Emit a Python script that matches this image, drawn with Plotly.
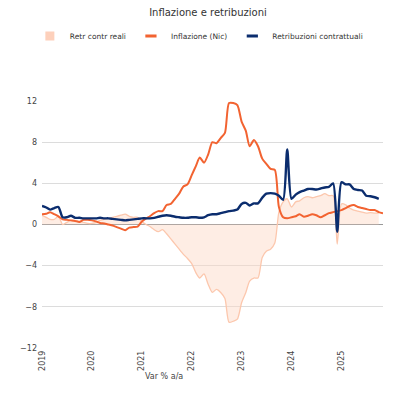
import pandas as pd
import plotly.graph_objects as go

# mesi da gen 2019 a nov 2025
mesi = pd.date_range("2019-01-01", "2025-11-01", freq="MS")

# Inflazione NIC, var % a/a
inflazione = [
    1.0, 1.05, 1.2, 1.0, 0.8, 0.5, 0.45, 0.4, 0.35, 0.25, 0.45, 0.45,
    0.4, 0.3, 0.15, 0.1, 0.0, -0.1, -0.25, -0.4, -0.55, -0.3, -0.25, -0.2,
    0.3, 0.6, 0.8, 1.1, 1.3, 1.3, 1.9, 2.0, 2.5, 3.0, 3.7, 3.9,
    4.8, 5.7, 6.5, 6.0, 6.8, 8.0, 7.9, 8.4, 8.9, 11.8, 11.8, 11.6,
    10.0, 9.1, 7.6, 8.2, 7.6, 6.4, 5.9, 5.4, 5.3, 1.7, 0.7, 0.6,
    0.7, 0.8, 1.0, 0.75, 0.85, 1.0, 0.9, 0.7, 0.9, 1.1, 1.2, 1.3,
    1.4, 1.6, 1.8, 1.9, 1.7, 1.6, 1.5, 1.4, 1.4, 1.2, 1.1,
]

# Retribuzioni contrattuali, var % a/a
retribuzioni = [
    1.8, 1.65, 1.45, 1.6, 1.7, 0.7, 0.7, 0.85, 0.65, 0.65, 0.6, 0.6,
    0.6, 0.6, 0.65, 0.6, 0.6, 0.55, 0.5, 0.45, 0.4, 0.45, 0.5, 0.55,
    0.6, 0.6, 0.6, 0.65, 0.75, 0.85, 0.9, 0.85, 0.75, 0.7, 0.65, 0.65,
    0.7, 0.7, 0.65, 0.7, 0.9, 1.0, 1.0, 1.1, 1.2, 1.3, 1.35, 1.45,
    2.0, 2.1, 1.85, 2.05, 2.05, 2.6, 3.0, 3.05, 3.0, 2.8, 2.4, 7.3,
    2.5, 2.9, 3.15, 3.3, 3.45, 3.45, 3.4, 3.5, 3.6, 3.65, 4.0, -0.7,
    4.1, 3.9, 3.9, 3.45, 3.35, 3.3, 2.8, 2.75, 2.65, 2.5,
]

# Retribuzioni contrattuali reali, var % a/a
retr_reali = [
    0.9, 0.7, 0.5, 0.5, 0.8, 0.0, 0.2, 0.4, 0.3, 0.3, 0.2, 0.1,
    0.1, 0.2, 0.4, 0.5, 0.6, 0.7, 0.8, 0.9, 1.0, 0.8, 0.7, 0.7,
    0.3, 0.0, -0.2, -0.5, -0.7, -0.5, -0.9, -1.4, -1.9, -2.4, -2.9, -3.3,
    -3.8, -4.7, -5.2, -4.8, -5.8, -6.6, -6.3, -6.6, -7.2, -9.5, -9.4, -9.2,
    -7.6, -6.6, -5.5, -5.2, -5.2, -3.2, -2.6, -2.4, -1.8, 1.2, 2.2, 2.5,
    1.7, 2.2, 2.3, 2.6, 2.7, 2.6, 2.7, 2.8, 3.0, 2.8, 2.8, -1.9,
    2.0, 1.9, 1.6, 1.4, 1.3, 1.2, 1.1, 1.15, 1.1, 1.1,
]

anni = ["2019", "2020", "2021", "2022", "2023", "2024", "2025"]
y_ticks = [-12, -8, -4, 0, 4, 8, 12]

col_area = "#fcc7ad"
col_infl = "#f26331"
col_retr = "#0b2d6e"

fig = go.Figure()
fig.add_trace(go.Scatter(x=mesi[:len(retr_reali)], y=retr_reali, name="Retr contr reali",
                         mode="lines", fill="tozeroy", fillcolor="rgba(252,215,195,0.45)",
                         line=dict(color=col_area, width=1.3, shape="spline", smoothing=0.7),
                         showlegend=False))
fig.add_trace(go.Scatter(x=mesi[:len(inflazione)], y=inflazione, name="Inflazione (Nic)",
                         mode="lines", showlegend=False,
                         line=dict(color=col_infl, width=2, shape="spline", smoothing=0.7)))
fig.add_trace(go.Scatter(x=mesi[:len(retribuzioni)], y=retribuzioni, name="Retribuzioni contrattuali",
                         mode="lines", showlegend=False,
                         line=dict(color=col_retr, width=2.4, shape="spline", smoothing=0.7)))

# voci di legenda (quadrato per l'area, trattino corto per le linee)
fig.add_trace(go.Scatter(x=[None], y=[None], name="Retr contr reali", mode="markers",
                         marker=dict(symbol="square", size=9, color="#fdd0bb")))
fig.add_trace(go.Scatter(x=[None], y=[None], name="Inflazione (Nic)", mode="markers",
                         marker=dict(symbol="line-ew", size=8, line=dict(color=col_infl, width=3))))
fig.add_trace(go.Scatter(x=[None], y=[None], name="Retribuzioni contrattuali", mode="markers",
                         marker=dict(symbol="line-ew", size=8, line=dict(color=col_retr, width=3))))

fig.update_layout(
    width=400, height=400,
    margin=dict(l=30, r=25, t=93, b=60),
    paper_bgcolor="white", plot_bgcolor="white",
    font=dict(family="DejaVu Sans", size=8, color="#444"),
    title=dict(text="Inflazione e retribuzioni", x=0.5, xanchor="center", y=0.989, yanchor="middle",
               font=dict(family="DejaVu Sans", size=10, color="#333")),
    legend=dict(orientation="h", x=0.46, xanchor="center", y=1.263, yanchor="middle",
                font=dict(size=7.5, color="#333"), itemwidth=30),
    showlegend=True,
)
fig.update_xaxes(type="date", range=["2019-01-01", "2025-11-01"], showgrid=False, zeroline=False,
                 tickvals=[a + "-01-01" for a in anni], ticktext=anni, tickangle=-90,
                 ticks="", showline=False)
fig.update_yaxes(range=[-12, 12], tickvals=y_ticks, gridcolor="#dcdcdc", gridwidth=1,
                 zeroline=True, zerolinecolor="#999", zerolinewidth=1.2, ticks="", ticklabelstandoff=4)
fig.add_annotation(text="Var % a/a", xref="paper", yref="paper", x=0.357, y=-0.142,
                   showarrow=False, font=dict(size=8, color="#444"))

fig.write_html("out.html")
